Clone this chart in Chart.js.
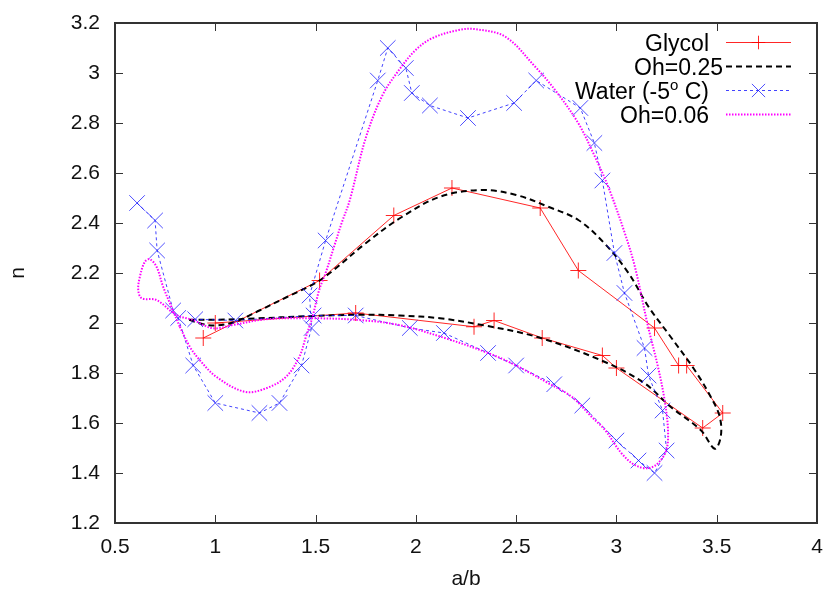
<!DOCTYPE html>
<html>
<head>
<meta charset="utf-8">
<script src="https://cdn.jsdelivr.net/npm/chart.js@4.4.0/dist/chart.umd.min.js"></script>
<style>
  html, body { margin: 0; padding: 0; background: #fff; }
  #wrap { width: 829px; height: 591px; }
</style>
</head>
<body>
<div id="wrap"><canvas id="chart" width="829" height="591"></canvas></div>
<script>
// values
const glycolX = [0.94, 1.52, 1.89, 2.18, 2.62, 2.81, 3.19, 3.31, 3.35, 3.53, 3.43, 3.00, 2.93, 2.63, 2.39, 2.29, 1.70, 1.00];
const glycolY = [1.94, 2.17, 2.43, 2.54, 2.46, 2.21, 1.98, 1.83, 1.83, 1.64, 1.58, 1.82, 1.87, 1.94, 2.01, 1.985, 2.04, 2.00];

const oh25X = [0.87, 0.93, 1.00, 1.10, 1.22, 1.36, 1.50, 1.59, 1.75, 1.92, 2.12, 2.33, 2.50, 2.66, 2.81, 2.94, 3.06, 3.16, 3.27, 3.39, 3.47, 3.515, 3.52, 3.49, 3.42, 3.27, 3.14, 2.94, 2.61, 2.33, 2.12, 1.92, 1.72, 1.45, 1.20, 1.00, 0.87];
const oh25Y = [2.013, 1.997, 1.99, 2.005, 2.05, 2.105, 2.16, 2.212, 2.319, 2.419, 2.505, 2.532, 2.512, 2.465, 2.412, 2.319, 2.20, 2.065, 1.945, 1.812, 1.705, 1.625, 1.545, 1.497, 1.572, 1.665, 1.759, 1.845, 1.943, 1.992, 2.019, 2.03, 2.033, 2.027, 2.018, 2.013, 2.013];

const waterX = [0.61, 0.70, 0.71, 0.79, 0.815, 0.89, 1.00, 1.22, 1.32, 1.43, 1.48, 1.47, 1.55, 1.81, 1.86, 1.95, 1.98, 2.07, 2.26, 2.49, 2.60, 2.82, 2.89, 2.93, 2.99, 3.04, 3.14, 3.16, 3.23, 3.25, 3.19, 3.11, 3.00, 2.83, 2.69, 2.50, 2.36, 2.14, 1.97, 1.70, 1.49, 1.10, 0.90];
const waterY = [2.48, 2.41, 2.29, 2.05, 2.02, 1.83, 1.68, 1.64, 1.68, 1.83, 1.98, 2.11, 2.33, 2.97, 3.10, 3.02, 2.92, 2.87, 2.82, 2.88, 2.97, 2.86, 2.72, 2.57, 2.28, 2.12, 1.90, 1.79, 1.65, 1.49, 1.40, 1.45, 1.53, 1.67, 1.755, 1.83, 1.88, 1.96, 1.98, 2.03, 2.03, 2.01, 2.015];

const oh06X = [0.823, 0.873, 0.922, 1.005, 1.146, 1.254, 1.353, 1.419, 1.452, 1.485, 1.518, 1.55, 1.59, 1.63, 1.67, 1.75, 1.833, 1.916, 1.999, 2.081, 2.214, 2.30, 2.446, 2.595, 2.694, 2.81, 2.893, 2.959, 3.042, 3.092, 3.158, 3.207, 3.24, 3.257, 3.249, 3.207, 3.158, 3.092, 3.025, 2.943, 2.876, 2.777, 2.661, 2.495, 2.363, 2.148, 1.916, 1.717, 1.485, 1.254, 1.088, 0.988, 0.889, 0.806, 0.707, 0.633, 0.616, 0.624, 0.649, 0.674, 0.707, 0.74, 0.781, 0.823];
const oh06Y = [1.985, 1.905, 1.852, 1.785, 1.725, 1.739, 1.785, 1.865, 1.945, 2.025, 2.132, 2.20, 2.30, 2.40, 2.49, 2.74, 2.91, 3.012, 3.092, 3.139, 3.172, 3.175, 3.145, 3.025, 2.932, 2.799, 2.665, 2.545, 2.359, 2.225, 1.985, 1.825, 1.692, 1.572, 1.492, 1.439, 1.419, 1.432, 1.479, 1.572, 1.625, 1.705, 1.759, 1.832, 1.879, 1.939, 1.992, 2.012, 2.019, 2.015, 1.992, 1.979, 2.012, 2.032, 2.092, 2.099, 2.132, 2.185, 2.245, 2.255, 2.225, 2.145, 2.065, 1.985];

const xTicks = [0.5, 1, 1.5, 2, 2.5, 3, 3.5, 4];
const yTicks = [1.2, 1.4, 1.6, 1.8, 2, 2.2, 2.4, 2.6, 2.8, 3, 3.2];

const toPoints = (xs, ys) => xs.map((x, i) => ({ x: x, y: ys[i] }));
const fmt = v => String(Number(v.toFixed(1)));

// gnuplot style frame with inward ticks on all four sides
const framePlugin = {
  id: 'frame',
  beforeDatasetsDraw(chart) {
    const { ctx, chartArea: a, scales } = chart;
    ctx.save();
    ctx.strokeStyle = '#333';
    ctx.lineWidth = 1;
    ctx.beginPath();
    xTicks.forEach(v => {
      const px = Math.round(scales.x.getPixelForValue(v)) + 0.5;
      ctx.moveTo(px, a.bottom); ctx.lineTo(px, a.bottom - 8);
      ctx.moveTo(px, a.top); ctx.lineTo(px, a.top + 8);
    });
    yTicks.forEach(v => {
      const py = Math.round(scales.y.getPixelForValue(v)) + 0.5;
      ctx.moveTo(a.left, py); ctx.lineTo(a.left + 8, py);
      ctx.moveTo(a.right, py); ctx.lineTo(a.right - 8, py);
    });
    ctx.stroke();
    ctx.lineWidth = 2;
    ctx.strokeRect(a.left, a.top, a.right - a.left, a.bottom - a.top);
    ctx.restore();
  },
  afterDraw(chart) {
    const { ctx, chartArea: a } = chart;
    ctx.save();
    ctx.fillStyle = '#111';
    ctx.font = '21px "Liberation Sans", Arial, sans-serif';
    ctx.textAlign = 'center';
    ctx.textBaseline = 'middle';
    ctx.fillText('a/b', (a.left + a.right) / 2, 579);
    ctx.translate(18, (a.top + a.bottom) / 2);
    ctx.rotate(-Math.PI / 2);
    ctx.fillText('n', 0, 0);
    ctx.restore();
  }
};

// key in the top right corner, text right aligned before the sample
const keyPlugin = {
  id: 'key',
  afterDatasetsDraw(chart) {
    const { ctx } = chart;
    const shift = [0, 14, 0, 0];
    ctx.save();
    ctx.font = '23px "Liberation Sans", Arial, sans-serif';
    ctx.fillStyle = '#000';
    ctx.textBaseline = 'alphabetic';
    chart.data.datasets.forEach((ds, i) => {
      const y = 42.5 + i * 24;
      const right = 709 + shift[i];
      ctx.textAlign = 'right';
      const label = ds.label;
      if (label.includes('\u00B0')) {
        const parts = label.split('\u00B0');
        const tail = parts[1];
        const tailW = ctx.measureText(tail).width;
        ctx.fillText(tail, right, y + 8);
        ctx.font = '15px "Liberation Sans", Arial, sans-serif';
        const supW = ctx.measureText('o').width;
        ctx.fillText('o', right - tailW, y - 1);
        ctx.font = '23px "Liberation Sans", Arial, sans-serif';
        ctx.fillText(parts[0], right - tailW - supW, y + 8);
      } else {
        ctx.fillText(label, right, y + 8);
      }
      ctx.save();
      ctx.strokeStyle = ds.borderColor;
      ctx.lineWidth = ds.borderWidth;
      ctx.setLineDash(ds.borderDash || []);
      ctx.beginPath();
      ctx.moveTo(726, y); ctx.lineTo(791, y);
      ctx.stroke();
      ctx.restore();
      if (ds.pointRadius > 0) {
        ctx.save();
        ctx.strokeStyle = ds.pointBorderColor;
        ctx.lineWidth = 1;
        Chart.helpers.drawPoint(ctx, { pointStyle: ds.pointStyle, radius: ds.pointRadius * 0.85, borderWidth: 1, rotation: 0 }, 758.5, y);
        ctx.restore();
      }
    });
    ctx.restore();
  }
};

new Chart(document.getElementById('chart'), {
  type: 'scatter',
  data: {
    datasets: [
      {
        label: 'Glycol',
        data: toPoints(glycolX, glycolY),
        showLine: true,
        borderColor: 'rgba(255,0,0,0.85)',
        borderWidth: 1,
        pointStyle: 'cross',
        pointRadius: 8,
        pointBorderColor: 'rgba(255,0,0,0.85)',
        pointBorderWidth: 1,
        tension: 0,
        order: 4
      },
      {
        label: 'Oh=0.25',
        data: toPoints(oh25X, oh25Y),
        showLine: true,
        borderColor: '#000',
        borderWidth: 2,
        borderDash: [6, 4],
        pointRadius: 0,
        tension: 0.35,
        order: 3
      },
      {
        label: 'Water (-5\u00B0 C)',
        data: toPoints(waterX, waterY),
        showLine: true,
        borderColor: 'rgba(20,20,255,0.8)',
        borderWidth: 1,
        borderDash: [3, 3],
        pointStyle: 'crossRot',
        pointRadius: 11,
        pointBorderColor: 'rgba(20,20,255,0.75)',
        pointBorderWidth: 1,
        tension: 0,
        order: 2
      },
      {
        label: 'Oh=0.06',
        data: toPoints(oh06X, oh06Y),
        showLine: true,
        borderColor: '#ff00ff',
        borderWidth: 2,
        borderDash: [1.5, 1.5],
        pointRadius: 0,
        tension: 0.35,
        order: 1
      }
    ]
  },
  options: {
    responsive: false,
    animation: false,
    devicePixelRatio: 1,
    layout: { padding: { top: 23, right: 9, left: 0, bottom: 0 } },
    plugins: { legend: { display: false }, tooltip: { enabled: false } },
    scales: {
      x: {
        type: 'linear',
        min: 0.5,
        max: 4,
        afterBuildTicks: s => { s.ticks = xTicks.map(v => ({ value: v })); },
        afterFit: s => { s.height = 68; s.paddingLeft = 0; s.paddingRight = 0; },
        grid: { display: false, drawTicks: false },
        border: { display: false },
        ticks: {
          padding: 12,
          color: '#111',
          font: { family: '"Liberation Sans", Arial, sans-serif', size: 21 },
          callback: v => fmt(v),
          maxRotation: 0
        }
      },
      y: {
        type: 'linear',
        min: 1.2,
        max: 3.2,
        afterBuildTicks: s => { s.ticks = yTicks.map(v => ({ value: v })); },
        afterFit: s => { s.width = 115; s.paddingTop = 0; s.paddingBottom = 0; },
        grid: { display: false, drawTicks: false },
        border: { display: false },
        ticks: {
          padding: 15,
          color: '#111',
          font: { family: '"Liberation Sans", Arial, sans-serif', size: 21 },
          callback: v => fmt(v)
        }
      }
    }
  },
  plugins: [framePlugin, keyPlugin]
});
</script>
</body>
</html>
